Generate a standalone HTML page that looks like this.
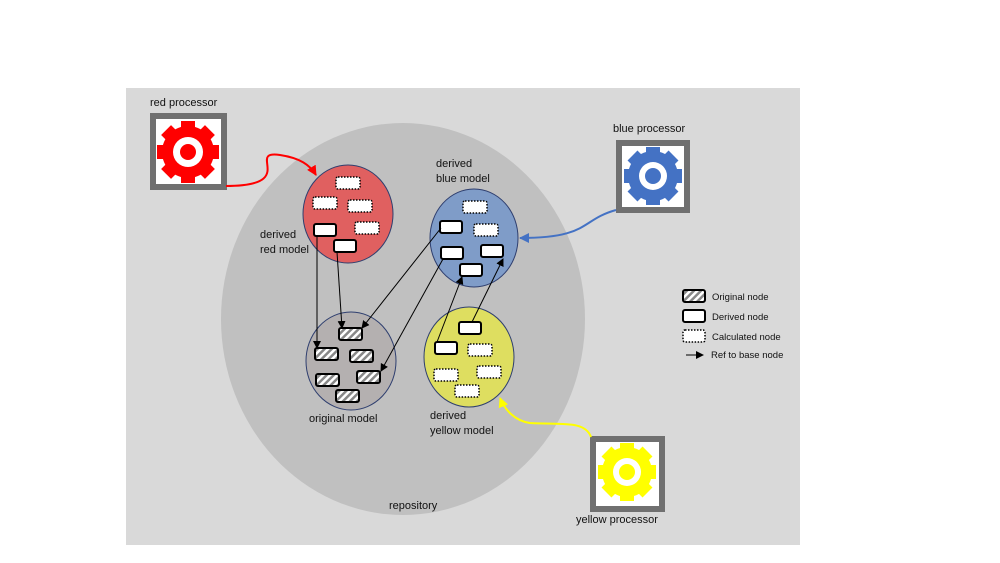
<!DOCTYPE html>
<html><head><style>
html,body{margin:0;padding:0;background:#fff;}
svg{display:block;}
text{font-family:"Liberation Sans",sans-serif;font-size:11px;fill:#111;}
</style></head><body>
<svg width="1000" height="563" viewBox="0 0 1000 563" xmlns="http://www.w3.org/2000/svg">
<defs>
<pattern id="h" width="5" height="5" patternUnits="userSpaceOnUse" patternTransform="rotate(45)">
<rect width="5" height="5" fill="#fff"/><rect width="2.5" height="5" fill="#888"/></pattern>
<marker id="a" markerWidth="8" markerHeight="8" refX="7" refY="4" orient="auto" markerUnits="userSpaceOnUse"><path d="M0,0 L8,4 L0,8z" fill="#000"/></marker>
<marker id="ar" markerWidth="10" markerHeight="10" refX="9" refY="5" orient="auto" markerUnits="userSpaceOnUse"><path d="M0,0 L10,5 L0,10z" fill="#f00"/></marker>
<marker id="ab" markerWidth="10" markerHeight="10" refX="9" refY="5" orient="auto" markerUnits="userSpaceOnUse"><path d="M0,0 L10,5 L0,10z" fill="#4472c4"/></marker>
<marker id="ay" markerWidth="10" markerHeight="10" refX="9" refY="5" orient="auto" markerUnits="userSpaceOnUse"><path d="M0,0 L10,5 L0,10z" fill="#ff0"/></marker>
</defs>
<rect x="126" y="88" width="674" height="457" fill="#d9d9d9"/>
<ellipse cx="403" cy="319" rx="182" ry="196" fill="#c0c0c0"/>

<rect x="153" y="116" width="71" height="71" fill="#fff" stroke="#707070" stroke-width="6"/>
<g fill="#f00" transform="translate(188,152)">
<circle r="26"/>
<rect x="-7" y="-31" width="14" height="62"/><rect x="-7" y="-31" width="14" height="62" transform="rotate(45)"/><rect x="-7" y="-31" width="14" height="62" transform="rotate(90)"/><rect x="-7" y="-31" width="14" height="62" transform="rotate(135)"/>
<circle r="15" fill="#fff"/><circle r="8"/></g>
<text x="150" y="106">red processor</text>

<rect x="619" y="143" width="68" height="67" fill="#fff" stroke="#707070" stroke-width="6"/>
<g fill="#4472c4" transform="translate(653,176)">
<circle r="25"/>
<rect x="-7" y="-29" width="14" height="58"/><rect x="-7" y="-29" width="14" height="58" transform="rotate(45)"/><rect x="-7" y="-29" width="14" height="58" transform="rotate(90)"/><rect x="-7" y="-29" width="14" height="58" transform="rotate(135)"/>
<circle r="14" fill="#fff"/><circle r="8"/></g>
<text x="613" y="132">blue processor</text>

<rect x="593" y="439" width="69" height="70" fill="#fff" stroke="#707070" stroke-width="6"/>
<g fill="#ff0" transform="translate(627,472)">
<circle r="25"/>
<rect x="-7" y="-29" width="14" height="58"/><rect x="-7" y="-29" width="14" height="58" transform="rotate(45)"/><rect x="-7" y="-29" width="14" height="58" transform="rotate(90)"/><rect x="-7" y="-29" width="14" height="58" transform="rotate(135)"/>
<circle r="14" fill="#fff"/><circle r="8"/></g>
<text x="576" y="523">yellow processor</text>

<path d="M226,186 C300,186 245,150 280,155 C300,158 310,165 316,175" fill="none" stroke="#f00" stroke-width="2" marker-end="url(#ar)"/>
<path d="M616,210 C580,220 590,238 520,238" fill="none" stroke="#4472c4" stroke-width="2" marker-end="url(#ab)"/>
<path d="M591,437 C585,420 560,425 530,423 C515,421 505,410 500,398" fill="none" stroke="#ff0" stroke-width="2" marker-end="url(#ay)"/>

<ellipse cx="348" cy="214" rx="45" ry="49" fill="#e06060" stroke="#2f3f6f" stroke-width="1"/>
<ellipse cx="474" cy="238" rx="44" ry="49" fill="#7f9cc8" stroke="#2f3f6f" stroke-width="1"/>
<ellipse cx="351" cy="361" rx="45" ry="49" fill="#b4b0b0" stroke="#2f3f6f" stroke-width="1"/>
<ellipse cx="469" cy="357" rx="45" ry="50" fill="#dede60" stroke="#2f3f6f" stroke-width="1"/>

<g stroke="#000" stroke-width="2" fill="#fff">
<g stroke-dasharray="1.5,1.5" stroke-width="1.5">
<rect x="336" y="177" width="24" height="12" rx="2"/>
<rect x="313" y="197" width="24" height="12" rx="2"/>
<rect x="348" y="200" width="24" height="12" rx="2"/>
<rect x="355" y="222" width="24" height="12" rx="2"/>
<rect x="463" y="201" width="24" height="12" rx="2"/>
<rect x="474" y="224" width="24" height="12" rx="2"/>
<rect x="468" y="344" width="24" height="12" rx="2"/>
<rect x="434" y="369" width="24" height="12" rx="2"/>
<rect x="477" y="366" width="24" height="12" rx="2"/>
<rect x="455" y="385" width="24" height="12" rx="2"/>
</g>
<rect x="314" y="224" width="22" height="12" rx="2"/>
<rect x="334" y="240" width="22" height="12" rx="2"/>
<rect x="440" y="221" width="22" height="12" rx="2"/>
<rect x="441" y="247" width="22" height="12" rx="2"/>
<rect x="481" y="245" width="22" height="12" rx="2"/>
<rect x="460" y="264" width="22" height="12" rx="2"/>
<rect x="459" y="322" width="22" height="12" rx="2"/>
<rect x="435" y="342" width="22" height="12" rx="2"/>
<g fill="url(#h)">
<rect x="339" y="328" width="23" height="12" rx="2"/>
<rect x="315" y="348" width="23" height="12" rx="2"/>
<rect x="350" y="350" width="23" height="12" rx="2"/>
<rect x="316" y="374" width="23" height="12" rx="2"/>
<rect x="357" y="371" width="23" height="12" rx="2"/>
<rect x="336" y="390" width="23" height="12" rx="2"/>
</g>
</g>

<g stroke="#000" stroke-width="1" fill="none" marker-end="url(#a)">
<line x1="317" y1="236" x2="317" y2="348"/>
<line x1="337" y1="252" x2="342" y2="328"/>
<line x1="441" y1="228" x2="362" y2="328"/>
<line x1="443" y1="259" x2="381" y2="371"/>
<line x1="437" y1="342" x2="462" y2="277"/>
<line x1="472" y1="322" x2="503" y2="259"/>
</g>

<text x="436" y="167">derived</text>
<text x="436" y="182">blue model</text>
<text x="260" y="238">derived</text>
<text x="260" y="253">red model</text>
<text x="309" y="422">original model</text>
<text x="430" y="419">derived</text>
<text x="430" y="434">yellow model</text>
<text x="389" y="509">repository</text>

<rect x="683" y="290" width="22" height="12" rx="2" fill="url(#h)" stroke="#000" stroke-width="2"/>
<rect x="683" y="310" width="22" height="12" rx="2" fill="#fff" stroke="#000" stroke-width="2"/>
<rect x="683" y="330" width="22" height="12" rx="2" fill="#fff" stroke="#000" stroke-width="1.5" stroke-dasharray="1.5,1.5"/>
<line x1="686" y1="355" x2="703" y2="355" stroke="#000" stroke-width="1" marker-end="url(#a)"/>
<text x="712" y="300" style="font-size:9.5px">Original node</text>
<text x="712" y="320" style="font-size:9.5px">Derived node</text>
<text x="712" y="340" style="font-size:9.5px">Calculated node</text>
<text x="711" y="358" style="font-size:9.5px">Ref to base node</text>
</svg>
</body></html>
